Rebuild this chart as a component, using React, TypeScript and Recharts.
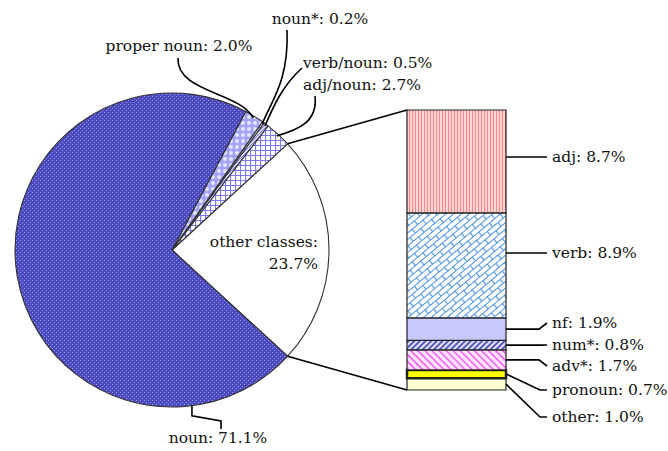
// Word class distribution: pie of all classes, bar breakdown of "other classes"
import { PieChart, Pie, Cell, BarChart, Bar, XAxis, YAxis } from 'recharts'

const pieNames = ['other classes', 'adj/noun', 'verb/noun', 'noun*', 'proper noun', 'noun']
const pieValues = [23.7, 2.7, 0.5, 0.2, 2.0, 71.1]
const pieFills = ['#ffffff', 'url(#pAdjNoun)', 'url(#pVerbNoun)', 'url(#pNounStar)', 'url(#pProper)', 'url(#pNoun)']

// bottom to top of the stacked bar
const barNames = ['other', 'pronoun', 'adv*', 'num*', 'nf', 'verb', 'adj']
const barValues = [1.0, 0.7, 1.7, 0.8, 1.9, 8.9, 8.7]
const barFills = ['#ffffd2', '#ffff00', 'url(#pAdv)', 'url(#pNum)', '#c8c8ff', 'url(#pVerb)', 'url(#pAdj)']

const pieData = pieNames.map((name, i) => ({ name, value: pieValues[i] }))
const barRow: Record<string, any> = { cat: 'other classes' }
barNames.forEach((n, i) => { barRow[n] = barValues[i] })

const W = 668
const H = 451
const FONT = '"DejaVu Serif", serif'
const FS = 15.5

const CX = 172
const CY = 250
const R = 157
const total = pieValues.reduce((a, b) => a + b, 0)
const START = -(pieValues[0] / total) * 180

const BAR_LEFT = 407
const BAR_RIGHT = 506
const BAR_TOP = 110
const BAR_BOTTOM = 390

const RAD = Math.PI / 180
const onArc = (deg: number, r = R - 2) => ({ x: CX + r * Math.cos(deg * RAD), y: CY - r * Math.sin(deg * RAD) })

// label placement for the pie
const pieLabels: Record<string, any> = {
  'proper noun': { tx: 179, ty: 46, anchor: 'middle', lead: (e: any) => `M178,58 C176,92 240,92 ${e.x},${e.y}` },
  'noun*': { tx: 320, ty: 19, anchor: 'middle', lead: (e: any) => `M287,30 C289,80 272,100 ${e.x},${e.y}` },
  'verb/noun': { tx: 303, ty: 63, anchor: 'start', lead: (e: any) => `M302,68 C283,85 274,105 ${e.x},${e.y}` },
  'adj/noun': { tx: 303, ty: 85, anchor: 'start', lead: (e: any) => `M315,96 C318,122 298,130 ${e.x},${e.y}` },
}

// label placement for the bar segments
const barLabels: Record<string, any> = {
  adj: { ly: 157, kind: 'flat' },
  verb: { ly: 253, kind: 'flat' },
  nf: { ly: 323, kind: 'late' },
  'num*': { ly: 345, kind: 'late' },
  'adv*': { ly: 366, kind: 'late' },
  pronoun: { ly: 390, kind: 'early' },
  other: { ly: 417, kind: 'early' },
}

function PieLabel(props: any) {
  const name = pieNames[props.index]
  const pct = pieValues[props.index].toFixed(1) + '%'
  if (name === 'other classes') {
    return (
      <text x={318} y={242} textAnchor="end" fontFamily={FONT} fontSize={FS} fill="#111" dominantBaseline="central">
        <tspan x={318} dy={0}>other classes:</tspan>
        <tspan x={318} dy={22}>{pct}</tspan>
      </text>
    )
  }
  if (name === 'noun') {
    const e = onArc(-82.7, R)
    return (
      <g>
        <path d={`M${e.x},${e.y} L${e.x},${e.y + 10} L221,421 L221,429`} stroke="#000" strokeWidth={1.6} fill="none" />
        <text x={218} y={438} textAnchor="middle" dominantBaseline="central" fontFamily={FONT} fontSize={FS} fill="#111">
          {name}: {pct}
        </text>
      </g>
    )
  }
  const l = pieLabels[name]
  const e = onArc(props.midAngle)
  return (
    <g>
      <path d={l.lead(e)} stroke="#000" strokeWidth={1.6} fill="none" />
      <text x={l.tx} y={l.ty} textAnchor={l.anchor} dominantBaseline="central" fontFamily={FONT} fontSize={FS} fill="#111">
        {name}: {pct}
      </text>
    </g>
  )
}

function makeBarLabel(name: string, value: number) {
  return (props: any) => {
    const { x, y, width, height } = props
    const cfg = barLabels[name]
    const sx = x + width
    const mid = y + height / 2
    const sy = cfg.kind === 'flat' ? cfg.ly : mid
    let d = ''
    if (cfg.kind === 'flat') d = `M${sx},${sy} L${sx + 41},${sy}`
    else if (cfg.kind === 'late') d = `M${sx},${sy} L${sx + 33},${sy} L${sx + 41},${cfg.ly}`
    else d = `M${sx},${sy} L${sx + 34},${cfg.ly} L${sx + 41},${cfg.ly}`
    return (
      <g>
        <path d={d} stroke="#000" strokeWidth={1.6} fill="none" />
        <text x={sx + 46} y={cfg.ly} dominantBaseline="central" fontFamily={FONT} fontSize={FS} fill="#111">
          {name}: {value.toFixed(1)}%
        </text>
      </g>
    )
  }
}

export default function App() {
  const top = onArc(-START, R)
  const bottom = onArc(START, R)
  return (
    <div style={{ position: 'absolute', left: 0, top: 0, width: W, height: H, background: '#fff' }}>
      <div style={{ position: 'absolute', left: 0, top: 0 }}>
        <PieChart width={W} height={H} margin={{ top: 0, right: 0, bottom: 0, left: 0 }}>
          <defs>
            <pattern id="pNoun" width="4" height="4" patternUnits="userSpaceOnUse">
              <rect width="4" height="4" fill="#4c4cc0" />
              <rect x="0" y="0" width="1" height="1" fill="#9a9aec" />
              <rect x="2" y="2" width="1" height="1" fill="#9a9aec" />
              <rect x="1" y="1" width="1" height="1" fill="#3838a6" />
            </pattern>
            <pattern id="pProper" width="6" height="6" patternUnits="userSpaceOnUse">
              <rect width="6" height="6" fill="#a4a4f6" />
              <circle cx="3" cy="3" r="2" fill="#e4e4ff" />
            </pattern>
            <pattern id="pAdjNoun" width="5" height="5" patternUnits="userSpaceOnUse">
              <rect width="5" height="5" fill="#ffffff" />
              <path d="M0,0.5 H5 M0.5,0 V5" stroke="#7a7af2" strokeWidth="1.2" />
            </pattern>
            <pattern id="pVerbNoun" width="3" height="3" patternUnits="userSpaceOnUse">
              <rect width="3" height="3" fill="#dcdcff" />
              <path d="M0,3 L3,0" stroke="#6060d0" strokeWidth="0.8" />
            </pattern>
            <pattern id="pNounStar" width="3" height="3" patternUnits="userSpaceOnUse">
              <rect width="3" height="3" fill="#eeeeff" />
              <circle cx="1.5" cy="1.5" r="0.7" fill="#7070e0" />
            </pattern>
          </defs>
          <Pie
            data={pieData}
            dataKey="value"
            nameKey="name"
            cx={CX}
            cy={CY}
            outerRadius={R}
            startAngle={START}
            endAngle={START + 360}
            stroke="#333"
            strokeWidth={1.1}
            label={PieLabel}
            labelLine={false}
            isAnimationActive={false}
          >
            {pieData.map((d, i) => (
              <Cell key={d.name} fill={pieFills[i]} />
            ))}
          </Pie>
        </PieChart>
      </div>
      <div style={{ position: 'absolute', left: 0, top: 0 }}>
        <BarChart
          width={W}
          height={H}
          data={[barRow]}
          barCategoryGap={0}
          margin={{ top: BAR_TOP, right: W - BAR_RIGHT, bottom: H - BAR_BOTTOM, left: BAR_LEFT }}
        >
          <defs>
            <pattern id="pAdj" width="3" height="3" patternUnits="userSpaceOnUse">
              <rect width="3" height="3" fill="#ffd6d6" />
              <path d="M1.5,0 V3" stroke="#ff8484" strokeWidth="1" />
            </pattern>
            <pattern id="pVerb" width="14" height="10" patternUnits="userSpaceOnUse" patternTransform="rotate(-40)">
              <rect width="14" height="10" fill="#ffffff" />
              <path d="M0,0.5 H14 M0,5.5 H14 M0.5,0.5 V5.5 M7.5,5.5 V10.5" stroke="#4a92e4" strokeWidth="1.1" fill="none" />
            </pattern>
            <pattern id="pNum" width="4" height="4" patternUnits="userSpaceOnUse" patternTransform="rotate(-45)">
              <rect width="4" height="4" fill="#e4e4ff" />
              <path d="M0,2 H4" stroke="#3434b0" strokeWidth="1.6" />
            </pattern>
            <pattern id="pAdv" width="5" height="5" patternUnits="userSpaceOnUse" patternTransform="rotate(45)">
              <rect width="5" height="5" fill="#ffe6ff" />
              <path d="M0,2.5 H5" stroke="#f040f0" strokeWidth="1.3" />
            </pattern>
          </defs>
          <XAxis dataKey="cat" hide />
          <YAxis hide domain={[0, 'dataMax']} />
          {barNames.map((n, i) => (
            <Bar
              key={n}
              dataKey={n}
              stackId="a"
              fill={barFills[i]}
              stroke="#222"
              strokeWidth={n === 'pronoun' ? 2.5 : 1.2}
              label={makeBarLabel(n, barValues[i])}
              isAnimationActive={false}
            />
          ))}
        </BarChart>
      </div>
      <svg width={W} height={H} style={{ position: 'absolute', left: 0, top: 0, pointerEvents: 'none' }}>
        <line x1={top.x} y1={top.y} x2={BAR_LEFT} y2={BAR_TOP} stroke="#000" strokeWidth={1.6} />
        <line x1={bottom.x} y1={bottom.y} x2={BAR_LEFT} y2={BAR_BOTTOM} stroke="#000" strokeWidth={1.6} />
      </svg>
    </div>
  )
}
